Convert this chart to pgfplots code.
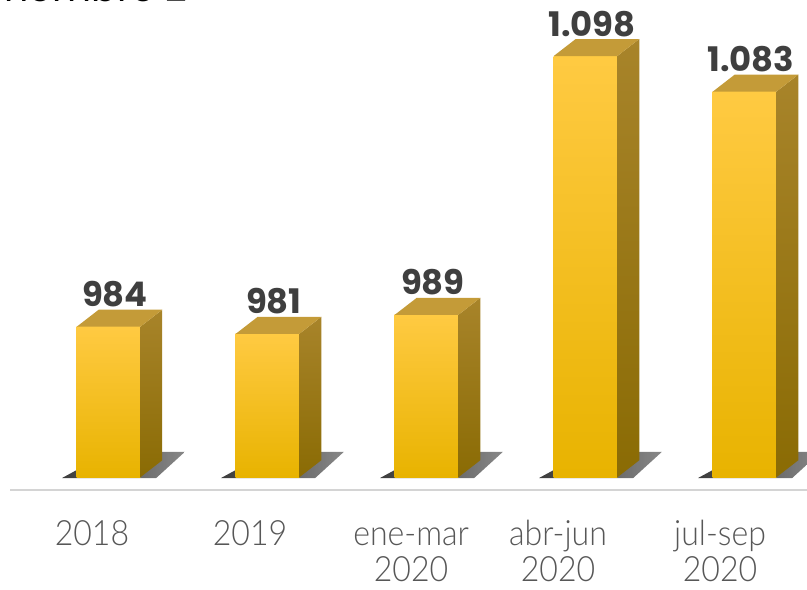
\documentclass[border=0pt]{standalone}
\usepackage{pgfplots}
\pgfplotsset{compat=1.18}
\usepackage{fontspec}
\setmainfont{Poppins}
\newfontfamily\catfont[FakeStretch=0.92]{Lato Light}
\definecolor{frontTop}{HTML}{FFCA42}
\definecolor{frontMid}{HTML}{FFC700}
\definecolor{frontBot}{HTML}{E8B300}
\definecolor{sideTop}{HTML}{A8842A}
\definecolor{sideBot}{HTML}{8A6B04}
\definecolor{topFace}{HTML}{C49B38}
\definecolor{valText}{HTML}{3F3F3F}
\definecolor{catText}{HTML}{575757}
\definecolor{baseLine}{HTML}{D4D4D4}

\begin{document}
\begin{tikzpicture}
\begin{axis}[
    scale only axis,
    width=797bp, height=490bp,
    xmin=-0.6195, xmax=4.393,
    ymin=915.25, ymax=1121.6,
    clip=false,
    axis x line=bottom,
    axis y line=none,
    x axis line style={-, draw=baseLine, line width=2.5bp},
    ytick=\empty,
    major tick length=0pt,
    xtick={-0.104,0.890,1.903,2.827,3.846},
    xticklabels={{\strut 2018},{\strut 2019},{\strut ene-mar\\2020},{\strut abr-jun\\2020},{\strut jul-sep\\2020}},
    xticklabel style={font=\catfont\fontsize{35}{37}\selectfont, text=catText,
        align=center, anchor=north, inner sep=0pt, yshift=-29bp},
]
% sombras
\addplot[draw=none, shading=axis, left color=black!90, right color=black!55, opacity=0.85] coordinates {(-0.292,920.3) (0.30,920.3) (0.48,931.3) (0.01,931.3)} -- cycle;
\addplot[draw=none, shading=axis, left color=black!90, right color=black!55, opacity=0.85] coordinates {(0.708,920.3) (1.30,920.3) (1.48,931.3) (1.01,931.3)} -- cycle;
\addplot[draw=none, shading=axis, left color=black!90, right color=black!55, opacity=0.85] coordinates {(1.708,920.3) (2.30,920.3) (2.48,931.3) (2.01,931.3)} -- cycle;
\addplot[draw=none, shading=axis, left color=black!90, right color=black!55, opacity=0.85] coordinates {(2.708,920.3) (3.30,920.3) (3.48,931.3) (3.01,931.3)} -- cycle;
\addplot[draw=none, shading=axis, left color=black!90, right color=black!55, opacity=0.85] coordinates {(3.708,920.3) (4.30,920.3) (4.48,931.3) (4.01,931.3)} -- cycle;

% caras frontales
\addplot[draw=none, top color=frontTop, middle color=frontMid, bottom color=frontBot] coordinates {(-0.2,920.6) (0.2,920.6) (0.2,984) (-0.2,984)} -- cycle;
\addplot[draw=none, top color=frontTop, middle color=frontMid, bottom color=frontBot] coordinates {(0.8,920.6) (1.2,920.6) (1.2,981) (0.8,981)} -- cycle;
\addplot[draw=none, top color=frontTop, middle color=frontMid, bottom color=frontBot] coordinates {(1.8,920.6) (2.2,920.6) (2.2,989) (1.8,989)} -- cycle;
\addplot[draw=none, top color=frontTop, middle color=frontMid, bottom color=frontBot] coordinates {(2.8,920.6) (3.2,920.6) (3.2,1098) (2.8,1098)} -- cycle;
\addplot[draw=none, top color=frontTop, middle color=frontMid, bottom color=frontBot] coordinates {(3.8,920.6) (4.2,920.6) (4.2,1083) (3.8,1083)} -- cycle;

% caras laterales
\addplot[draw=none, top color=sideTop, bottom color=sideBot] coordinates {(0.2,920.6) (0.338,927.76) (0.338,991.16) (0.2,984)} -- cycle;
\addplot[draw=none, top color=sideTop, bottom color=sideBot] coordinates {(1.2,920.6) (1.338,927.76) (1.338,988.16) (1.2,981)} -- cycle;
\addplot[draw=none, top color=sideTop, bottom color=sideBot] coordinates {(2.2,920.6) (2.338,927.76) (2.338,996.16) (2.2,989)} -- cycle;
\addplot[draw=none, top color=sideTop, bottom color=sideBot] coordinates {(3.2,920.6) (3.338,927.76) (3.338,1105.16) (3.2,1098)} -- cycle;
\addplot[draw=none, top color=sideTop, bottom color=sideBot] coordinates {(4.2,920.6) (4.338,927.76) (4.338,1090.16) (4.2,1083)} -- cycle;

% caras superiores
\addplot[draw=none, fill=topFace] coordinates {(-0.2,984) (0.2,984) (0.338,991.16) (-0.062,991.16)} -- cycle;
\addplot[draw=none, fill=topFace] coordinates {(0.8,981) (1.2,981) (1.338,988.16) (0.938,988.16)} -- cycle;
\addplot[draw=none, fill=topFace] coordinates {(1.8,989) (2.2,989) (2.338,996.16) (1.938,996.16)} -- cycle;
\addplot[draw=none, fill=topFace] coordinates {(2.8,1098) (3.2,1098) (3.338,1105.16) (2.938,1105.16)} -- cycle;
\addplot[draw=none, fill=topFace] coordinates {(3.8,1083) (4.2,1083) (4.338,1090.16) (3.938,1090.16)} -- cycle;

% etiquetas de valor
\addplot[only marks, mark=none, point meta=explicit symbolic, nodes near coords,
    every node near coord/.style={anchor=base, inner sep=0pt, text=valText,
        font=\bfseries\fontsize{34}{40}\selectfont}]
coordinates {
  (0.04,992.4) [984]
  (1.04,989.4) [981]
  (2.04,997.4) [989]
  (3.04,1106.4) [1.098]
  (4.04,1091.4) [1.083]
};
\end{axis}
\node[anchor=base east, inner sep=0pt, font=\fontsize{38}{40}\selectfont]
  at ([xshift=177bp, yshift=-2bp]current axis.north west) {nombre 2};
\pgfresetboundingbox
\path ([xshift=-10bp, yshift=-100bp]current axis.south west) rectangle (current axis.north east);
\end{tikzpicture}
\end{document}
